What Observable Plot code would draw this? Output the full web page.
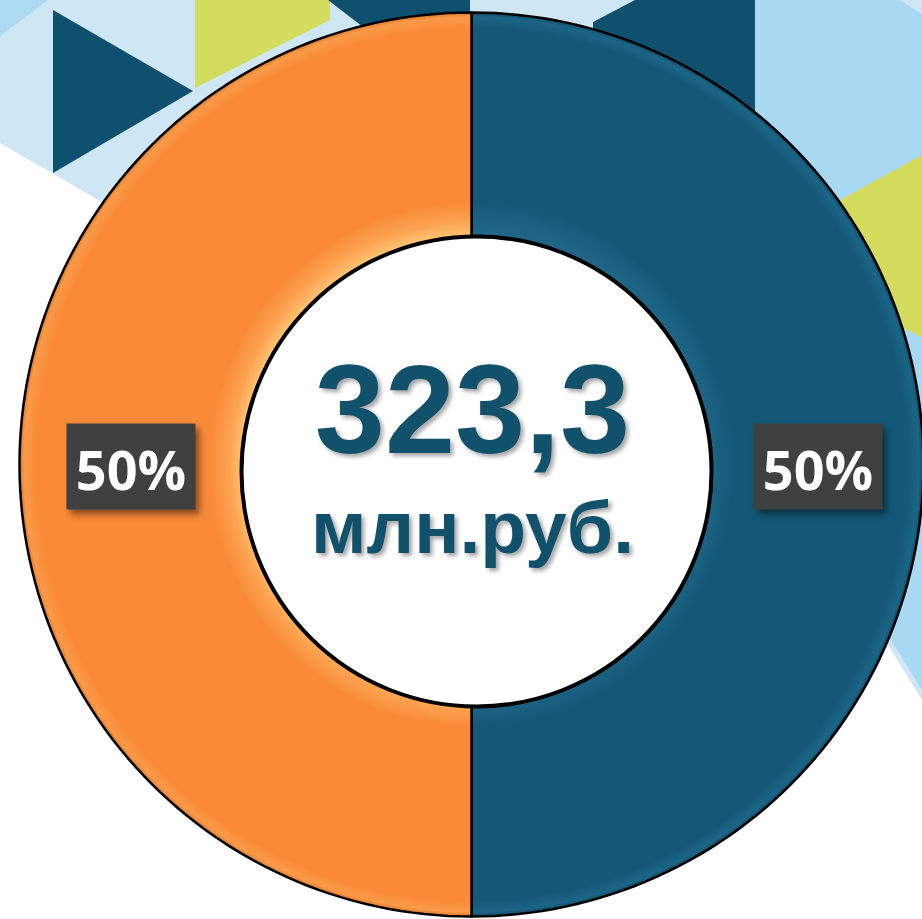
<!DOCTYPE html>
<html>
<head>
<meta charset="utf-8">
<script src="https://cdn.jsdelivr.net/npm/d3@7"></script>
<script src="https://cdn.jsdelivr.net/npm/@observablehq/plot@0.6"></script>
<style>
  html, body { margin: 0; padding: 0; background: #fff; }
  #wrap { position: relative; width: 922px; height: 919px; overflow: hidden; }
  #bg { position: absolute; left: 0; top: 0; }
  #chart { position: absolute; left: 0; top: 0; }
  .center-text text { font-family: Arial, "Liberation Sans", sans-serif; filter: drop-shadow(3px 3px 2px rgba(0,0,0,0.35)); }
  .label-box path { filter: drop-shadow(4px 5px 3px rgba(0,0,0,0.45)); }
</style>
</head>
<body>
<div id="wrap">
  <svg id="bg" width="922" height="919" viewBox="0 0 922 919" aria-hidden="true">
    <polygon points="0,0 480,0 480,421 0,143" fill="#CFE6F5"/>
    <polygon points="0,0 48,0 0,36" fill="#AEDAF1"/>
    <polygon points="53,10 53,173 193,91" fill="#0F506E"/>
    <polygon points="195,0 330,0 330,20 195,88" fill="#D4DC5E"/>
    <polygon points="328,0 480,0 480,40 380,40" fill="#0F506E"/>
    <polygon points="470,0 922,0 922,700 860,600 755,400 470,300" fill="#CFE6F5"/>
    <polygon points="593,22 635,0 755,0 755,300 593,300" fill="#0F506E"/>
    <polygon points="755,0 900,0 922,14 922,690 860,590 755,400" fill="#A9D9F2"/>
    <polygon points="840,200 922,155 922,337 840,300" fill="#D4DC5E"/>
  </svg>
  <div id="chart"></div>
</div>
<script>
// ---- data ----
const categories = ["Сегмент 1", "Сегмент 2"];
const shares = [50, 50];
const shareLabels = ["50%", "50%"];
const totalValue = ["323,3"];
const totalUnit = ["млн.руб."];
const sliceColors = ["#145877", "#F98B38"];

// ---- layout (styling) ----
const W = 922, H = 919;
const cx = 471, cy = 464, R = 452;
const holeFrac = 0.50;
const centerR = 235;

const arcs = d3.pie().sort(null)(shares);
function slicePolygon(a, i) {
  const n = 120, pts = [];
  for (let k = 0; k <= n; k++) {
    const t = a.startAngle + (a.endAngle - a.startAngle) * k / n;
    pts.push({x: Math.sin(t), y: -Math.cos(t), i});
  }
  for (let k = n; k >= 0; k--) {
    const t = a.startAngle + (a.endAngle - a.startAngle) * k / n;
    pts.push({x: holeFrac * Math.sin(t), y: -holeFrac * Math.cos(t), i});
  }
  return pts;
}
const sliceMarks = arcs.map((a, i) =>
  Plot.line(slicePolygon(a, i), {x: "x", y: "y", fill: `url(#slice${i})`, stroke: "#000", strokeWidth: 2.5, curve: "linear-closed"})
);
const midR = (1 + 0.52) / 2;
const labelData = arcs.map((a, i) => {
  const t = (a.startAngle + a.endAngle) / 2;
  return {x: midR * Math.sin(t), y: -midR * Math.cos(t), text: shareLabels[i], cat: categories[i]};
});
const boxSymbol = { draw(ctx) { ctx.rect(-64.5, -43, 129, 86); } };

const chart = Plot.plot({
  width: W, height: H,
  margin: 0,
  style: {background: "none", overflow: "visible"},
  x: {domain: [-1, 1], range: [cx - R, cx + R], axis: null},
  y: {domain: [-1, 1], range: [cy - R, cy + R], axis: null},
  marks: [
    ...sliceMarks,
    Plot.dot([{x: 0, y: 0}], {x: "x", y: "y", r: centerR, fill: "#fff", stroke: "#000", strokeWidth: 4, dx: 5, dy: 7}),
    Plot.dot(labelData, {x: "x", y: "y", symbol: boxSymbol, r: 10, fill: "#404040", dx: 3, dy: 2, className: "label-box"}),
    Plot.text(labelData, {x: "x", y: "y", text: "text", fill: "#fff", fontSize: 54, fontWeight: "bold", fontFamily: "'Open Sans', sans-serif", lineAnchor: "bottom", dx: 3, dy: 25}),
    Plot.text(totalValue, {x: () => 0, y: () => 0, text: d => d, fill: "#12516C", fontSize: 126, fontWeight: "bold", fontFamily: "Arial", lineAnchor: "bottom", dx: 1, dy: -12, className: "center-text"}),
    Plot.text(totalUnit, {x: () => 0, y: () => 0, text: d => d, fill: "#12516C", fontSize: 75, fontWeight: "bold", fontFamily: "Arial", lineAnchor: "bottom", dx: 1, dy: 88, className: "center-text"})
  ]
});

// gradients for the bevelled look of the slices (base colours from sliceColors)
const px = chart.scale("x").apply(0), py = chart.scale("y").apply(0);
const ns = "http://www.w3.org/2000/svg";
const defs = document.createElementNS(ns, "defs");
const gradStops = [
  [[holeFrac, "#22688A"], [0.54, "#1B6283"], [0.58, sliceColors[0]], [0.965, sliceColors[0]], [0.99, "#1C6586"], [1, "#0F4A63"]],
  [[holeFrac, "#FFC978"], [0.535, "#FCA452"], [0.58, sliceColors[1]], [0.965, sliceColors[1]], [0.99, "#FA9A48"], [1, "#D9732A"]]
];
arcs.forEach((a, i) => {
  const g = document.createElementNS(ns, "radialGradient");
  g.setAttribute("id", `slice${i}`);
  g.setAttribute("gradientUnits", "userSpaceOnUse");
  g.setAttribute("cx", px); g.setAttribute("cy", py); g.setAttribute("r", R);
  gradStops[i].forEach(([o, c]) => {
    const s = document.createElementNS(ns, "stop");
    s.setAttribute("offset", o); s.setAttribute("stop-color", c);
    g.appendChild(s);
  });
  defs.appendChild(g);
});
chart.insertBefore(defs, chart.firstChild);
document.getElementById("chart").appendChild(chart);
</script>
</body>
</html>
